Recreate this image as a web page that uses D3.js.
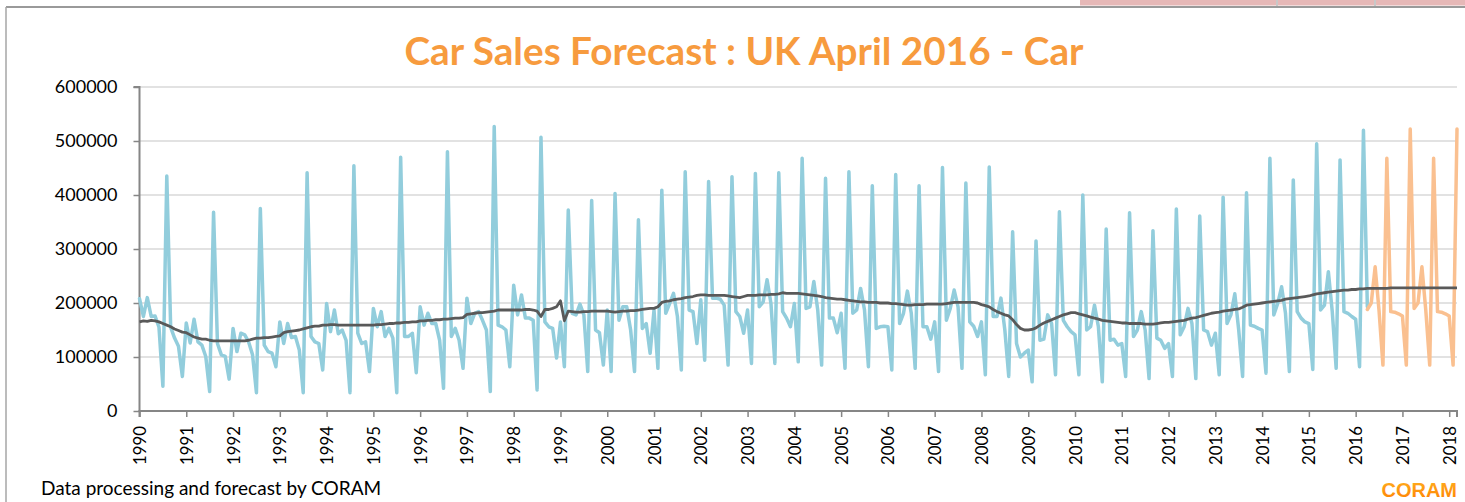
<!DOCTYPE html>
<html>
<head>
<meta charset="utf-8"/>
<style>
  body { margin: 0; background: #fff; }
  svg text { font-family: Lato, "Open Sans", sans-serif; }
</style>
</head>
<body>
<svg id="chart" width="1465" height="502"></svg>
<script src="https://d3js.org/d3.v7.min.js"></script>
<script>
// monthly UK car registrations, in thousands, Jan 1990 = index 0
const startYear = 1990;
const actualSales = [
  208,175,210,175,176,155, 46,435,155,135,120, 64,  // 1990
  163,126,170,128,122,101, 36,368,125,104,101, 59,  // 1991
  153,110,144,141,128,104, 34,375,122,110,107, 82,  // 1992
  165,125,162,136,138,113, 34,441,138,128,125, 76,  // 1993
  199,147,187,143,150,131, 34,454,144,125,128, 73,  // 1994
  190,156,184,138,153,135, 34,470,138,138,144, 71,  // 1995
  193,159,181,162,162,131, 42,480,138,153,131, 79,  // 1996
  209,162,181,184,168,150, 36,527,159,156,150, 82,  // 1997
  233,178,215,172,172,168, 39,507,165,156,153, 98,  // 1998
  165, 82,372,181,178,198,178, 73,390,150,145, 85,  // 1999
  187, 73,403,168,193,193,150, 73,354,153,162,107,  // 2000
  187, 79,409,181,199,218,175, 76,443,187,184,125,  // 2001
  206, 94,425,209,209,207,196, 85,434,184,175,144,  // 2002
  187, 88,440,193,202,243,199, 88,441,184,172,156,  // 2003
  199, 91,468,190,193,240,187, 85,431,172,172,145,  // 2004
  181, 79,443,181,187,227,187, 82,417,153,156,157,  // 2005
  156, 76,438,162,181,222,181, 79,417,156,156,133,  // 2006
  165, 73,451,168,190,224,193, 79,422,165,157,138,  // 2007
  165, 67,452,175,175,209,150, 64,332,125,100,107,  // 2008
  113, 54,315,131,133,178,162, 67,369,168,156,147,  // 2009
  141, 67,400,150,156,196,156, 54,337,131,133,122,  // 2010
  125, 64,367,138,150,184,150, 60,334,135,131,116,  // 2011
  125, 64,374,141,156,190,162, 60,361,150,147,122,  // 2012
  144, 67,396,162,178,217,150, 64,404,159,157,153,  // 2013
  150, 70,468,178,199,230,181, 73,428,184,172,165,  // 2014
  162, 77,495,187,196,258,184, 79,465,184,181,175,  // 2015
  170, 82,520,193                                     // 2016
];
// forecast from Apr 2016 to Mar 2018
const forecastStart = 315;
const forecastSales = [
  188,200,267,186, 85,468,184,183,180,             // Apr-Dec 2016
  176, 85,522,190,200,267,186, 85,468,184,183,180, // 2017
  176, 85,522                                      // Jan-Mar 2018
];
const trendSales = [
  165,167,166,168,167,165,162,159,156,152,149,146,  // 1990
  145,141,137,135,133,133,131,130,130,130,130,130,  // 1991
  130,130,130,130,131,133,135,135,136,136,137,138,  // 1992
  139,145,147,148,149,150,152,154,156,157,157,159,  // 1993
  159,160,160,159,159,159,159,159,159,159,159,159,  // 1994
  159,160,160,161,162,162,163,163,164,164,165,165,  // 1995
  167,167,168,168,169,169,170,170,171,172,172,173,  // 1996
  179,180,181,182,182,183,184,185,187,187,187,187,  // 1997
  187,187,187,188,188,187,185,175,188,188,190,193,  // 1998
  204,167,185,184,183,183,184,184,185,185,185,185,  // 1999
  185,184,183,184,185,185,186,186,187,188,189,190,  // 2000
  190,193,201,203,204,206,207,208,210,211,212,214,  // 2001
  215,215,214,214,214,214,214,213,212,211,210,212,  // 2002
  214,214,214,215,215,215,216,216,217,219,218,218,  // 2003
  218,218,217,216,215,214,213,212,210,209,208,207,  // 2004
  207,206,205,204,203,202,202,201,201,201,200,200,  // 2005
  200,199,199,198,197,196,196,197,197,197,198,198,  // 2006
  198,198,198,199,200,201,201,201,201,201,201,200,  // 2007
  197,195,193,188,184,181,178,176,169,160,153,150,  // 2008
  150,151,154,159,163,166,169,172,175,178,180,182,  // 2009
  182,180,178,176,174,172,170,168,167,166,165,164,  // 2010
  163,163,162,162,162,162,161,161,161,162,163,164,  // 2011
  164,165,166,167,168,170,172,173,175,177,179,181,  // 2012
  182,183,185,186,187,188,189,192,196,197,198,199,  // 2013
  200,201,202,203,204,205,207,208,209,210,211,212,  // 2014
  213,215,217,218,219,220,221,222,223,224,224,225,  // 2015
  225,226,226,227,227,227,227,227,227,228,228,228,  // 2016
  228,228,228,228,228,228,228,228,228,228,228,228,  // 2017
  228,228,228                                       // 2018
];
const yTicks = [0, 100, 200, 300, 400, 500, 600];
const yearTicks = d3.range(0, 337, 12);

const svg = d3.select("#chart");
const plotLeft = 139.5, plotRight = 1457, plotTop = 87, plotBottom = 411;

const x = d3.scaleLinear().domain([0, trendSales.length - 1]).range([plotLeft, plotRight]);
const y = d3.scaleLinear().domain([0, 600]).range([plotBottom, plotTop]);

// sheet bits above the chart
svg.append("rect").attr("x", 1080).attr("y", 0).attr("width", 385).attr("height", 5.5).attr("fill", "#e6b8b7");
[1277, 1375].forEach(function(v) {
  svg.append("line").attr("x1", v).attr("x2", v).attr("y1", 0).attr("y2", 6).attr("stroke", "#c8c8c8").attr("stroke-width", 2);
});
// chart frame
svg.append("line").attr("x1", 6).attr("x2", 1465).attr("y1", 7).attr("y2", 7).attr("stroke", "#9a9a9a").attr("stroke-width", 2);
svg.append("line").attr("x1", 6).attr("x2", 6).attr("y1", 7).attr("y2", 502).attr("stroke", "#a6a6a6").attr("stroke-width", 1.5);

// gridlines
svg.append("g")
  .selectAll("line")
  .data(yTicks.slice(1))
  .enter()
  .append("line")
  .attr("x1", plotLeft).attr("x2", plotRight)
  .attr("y1", function(d) { return y(d); })
  .attr("y2", function(d) { return y(d); })
  .attr("stroke", "#d9d9d9")
  .attr("stroke-width", 1.5);

// y axis
const yAxis = svg.append("g")
  .attr("transform", `translate(${plotLeft},0)`)
  .call(d3.axisLeft(y).tickValues(yTicks).tickSize(6).tickPadding(16)
    .tickFormat(function(d) { return String(d * 1000); }));
yAxis.selectAll("text").attr("font-size", 18).attr("fill", "#000").style("font-family", "Lato");

// x axis
const xAxis = svg.append("g")
  .attr("transform", `translate(0,${plotBottom})`)
  .call(d3.axisBottom(x).tickValues(yearTicks).tickSize(6)
    .tickFormat(function(d) { return String(startYear + d / 12); }));
xAxis.selectAll("text")
  .attr("transform", "rotate(-90)")
  .attr("text-anchor", "end")
  .attr("x", -15).attr("y", 0).attr("dy", "0.36em")
  .attr("font-size", 16.8).attr("fill", "#000").style("font-family", "Lato");

[yAxis, xAxis].forEach(function(a) {
  a.select(".domain").attr("stroke", "#868686").attr("stroke-width", 2);
  a.selectAll(".tick line").attr("stroke", "#868686").attr("stroke-width", 1.5);
});
yAxis.select(".domain").attr("d", `M-6,${plotTop}H0V${plotBottom}`);
xAxis.select(".domain").attr("d", `M${plotLeft},6V0H${plotRight}V6`);

// series
const line = d3.line()
  .x(function(d) { return x(d[0]); })
  .y(function(d) { return y(d[1]); });

svg.append("path")
  .datum(actualSales.map(function(v, i) { return [i, v]; }))
  .attr("d", line)
  .attr("fill", "none").attr("stroke", "#92cddc").attr("stroke-width", 3.5)
  .attr("stroke-linejoin", "round").attr("stroke-linecap", "round");

svg.append("path")
  .datum(forecastSales.map(function(v, i) { return [forecastStart + i, v]; }))
  .attr("d", line)
  .attr("fill", "none").attr("stroke", "#fac090").attr("stroke-width", 3.5)
  .attr("stroke-linejoin", "round").attr("stroke-linecap", "round");

svg.append("path")
  .datum(trendSales.map(function(v, i) { return [i, v]; }))
  .attr("d", line)
  .attr("fill", "none").attr("stroke", "#595959").attr("stroke-width", 2.8)
  .attr("stroke-linejoin", "round");

// texts
svg.append("text")
  .attr("x", 744).attr("y", 65)
  .attr("text-anchor", "middle")
  .attr("font-size", 38.7).attr("font-weight", "bold")
  .attr("fill", "#f79b3e")
  .text("Car Sales Forecast : UK April 2016 - Car");

svg.append("text")
  .attr("x", 41).attr("y", 495)
  .attr("font-size", 19).attr("fill", "#000")
  .text("Data processing and forecast by CORAM");

const grad = svg.append("defs").append("linearGradient")
  .attr("id", "logo").attr("x1", 0).attr("x2", 0).attr("y1", 0).attr("y2", 1);
grad.append("stop").attr("offset", "0%").attr("stop-color", "#ffb020");
grad.append("stop").attr("offset", "100%").attr("stop-color", "#ff8000");

svg.append("text")
  .attr("x", 1457).attr("y", 497)
  .attr("text-anchor", "end")
  .attr("font-size", 20).attr("font-weight", "bold")
  .style("font-family", "'Liberation Sans', Arial, sans-serif")
  .attr("fill", "url(#logo)")
  .text("CORAM");
</script>
</body>
</html>
